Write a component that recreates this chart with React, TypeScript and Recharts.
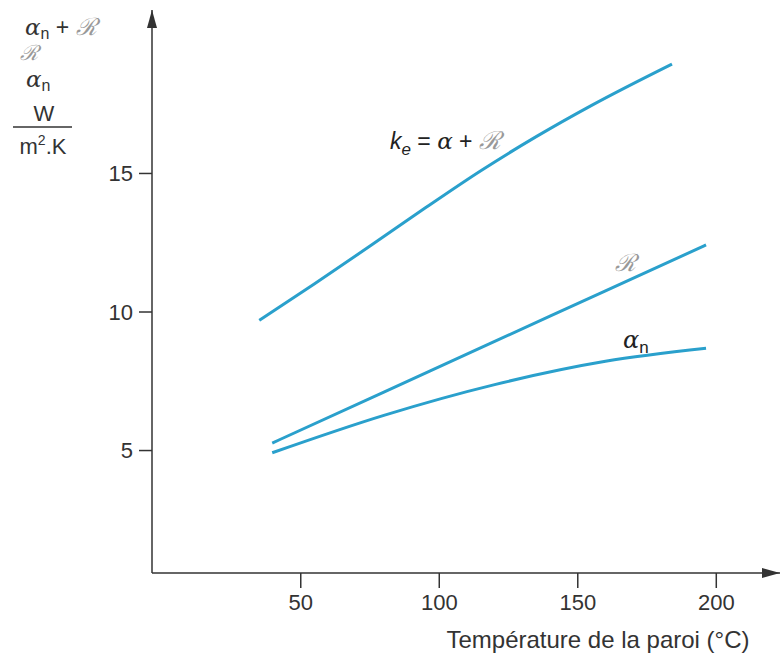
import React from "react";
import { LineChart, Line, XAxis, YAxis, ReferenceDot } from "recharts";

const keX = [35, 55, 75, 95, 115, 135, 155, 184];
const keY = [9.7, 11.02, 12.38, 13.76, 15.1, 16.33, 17.46, 18.95];
const rX = [39.7, 80, 120, 160, 196.3];
const rY = [5.27, 7.11, 8.94, 10.76, 12.42];
const anX = [39.7, 80, 120, 160, 196.3];
const anY = [4.92, 6.27, 7.38, 8.22, 8.69];

const xTicks = [50, 100, 150, 200];
const yTicks = [5, 10, 15];
const X_DOMAIN: [number, number] = [-3.7, 223];
const Y_DOMAIN: [number, number] = [0.58, 20.9];

const keData = keX.map((x, i) => ({ x, y: keY[i] }));
const rData = rX.map((x, i) => ({ x, y: rY[i] }));
const anData = anX.map((x, i) => ({ x, y: anY[i] }));

const LINE = "#2aa0cc";
const AX = "#333";
const FONT = "'Liberation Sans', Arial, sans-serif";
const SERIF = "'DejaVu Serif', serif";
const SCRIPT_R = "\u211B";

const UpArrow = (p: any) => (
  <polygon points={`${p.cx},${p.cy} ${p.cx - 5},${p.cy + 18} ${p.cx + 5},${p.cy + 18}`} fill={AX} />
);
const RightArrow = (p: any) => (
  <polygon points={`${p.cx},${p.cy} ${p.cx - 18},${p.cy - 5} ${p.cx - 18},${p.cy + 5}`} fill={AX} />
);

export default function App() {
  return (
    <div style={{ position: "absolute", left: 0, top: 0, width: 782, height: 662, background: "#fff" }}>
      <LineChart width={782} height={662} margin={{ top: 10, right: 2, bottom: 59, left: 92 }}>
        <XAxis
          type="number"
          dataKey="x"
          domain={X_DOMAIN}
          ticks={xTicks}
          allowDataOverflow
          stroke={AX}
          strokeWidth={1.5}
          tickSize={15}
          tickMargin={6}
          tick={{ fill: "#333", fontSize: 22, fontFamily: FONT }}
        />
        <YAxis
          type="number"
          domain={Y_DOMAIN}
          ticks={yTicks}
          allowDataOverflow
          width={60}
          stroke={AX}
          strokeWidth={1.5}
          tickSize={13}
          tickMargin={6}
          tick={{ fill: "#333", fontSize: 22, fontFamily: FONT }}
        />
        <Line data={keData} dataKey="y" type="monotone" stroke={LINE} strokeWidth={3} dot={false} isAnimationActive={false} />
        <Line data={rData} dataKey="y" type="monotone" stroke={LINE} strokeWidth={3} dot={false} isAnimationActive={false} />
        <Line data={anData} dataKey="y" type="monotone" stroke={LINE} strokeWidth={3} dot={false} isAnimationActive={false} />
        <ReferenceDot x={X_DOMAIN[0]} y={Y_DOMAIN[1]} ifOverflow="visible" shape={UpArrow} />
        <ReferenceDot x={X_DOMAIN[1]} y={Y_DOMAIN[0]} ifOverflow="visible" shape={RightArrow} />
        <g fontFamily={FONT}>
          <text x={598} y={648} textAnchor="middle" fontSize={24} fill="#333">Température de la paroi (°C)</text>
          <text x={390} y={149} fontSize={23} fill="#222">
            <tspan fontStyle="italic">k</tspan>
            <tspan fontSize={17} dy={6} fontStyle="italic">e</tspan>
            <tspan dy={-6}> = </tspan>
            <tspan fontStyle="italic" fontFamily={SERIF}>α</tspan>
            <tspan>  + </tspan>
            <tspan fontStyle="italic" fontFamily={SERIF} fontSize={25} fill="#999">{SCRIPT_R}</tspan>
          </text>
          <text x={615} y={271} fontSize={24} fontStyle="italic" fontFamily={SERIF} fill="#999">{SCRIPT_R}</text>
          <text x={623} y={348} fontSize={24} fill="#222">
            <tspan fontStyle="italic" fontFamily={SERIF}>α</tspan>
            <tspan fontSize={17} dy={5}>n</tspan>
          </text>
          <text x={25} y={35} fontSize={23} fill="#333">
            <tspan fontStyle="italic" fontFamily={SERIF}>α</tspan>
            <tspan fontSize={16} dy={4}>n</tspan>
            <tspan dy={-4}> + </tspan>
            <tspan fontStyle="italic" fontFamily={SERIF} fontSize={24} fill="#999">{SCRIPT_R}</tspan>
          </text>
          <text x={20} y={60} fontSize={21} fontStyle="italic" fontFamily={SERIF} fill="#999">{SCRIPT_R}</text>
          <text x={26} y={87} fontSize={23} fill="#333">
            <tspan fontStyle="italic" fontFamily={SERIF}>α</tspan>
            <tspan fontSize={16} dy={4}>n</tspan>
          </text>
          <text x={44} y={121} textAnchor="middle" fontSize={22} fill="#333">W</text>
          <line x1={13} y1={127} x2={72} y2={127} stroke="#333" strokeWidth={1.5} />
          <text x={43} y={154} textAnchor="middle" fontSize={22} fill="#333">
            m<tspan fontSize={14} dy={-9}>2</tspan><tspan dy={9}>.K</tspan>
          </text>
        </g>
      </LineChart>
    </div>
  );
}
